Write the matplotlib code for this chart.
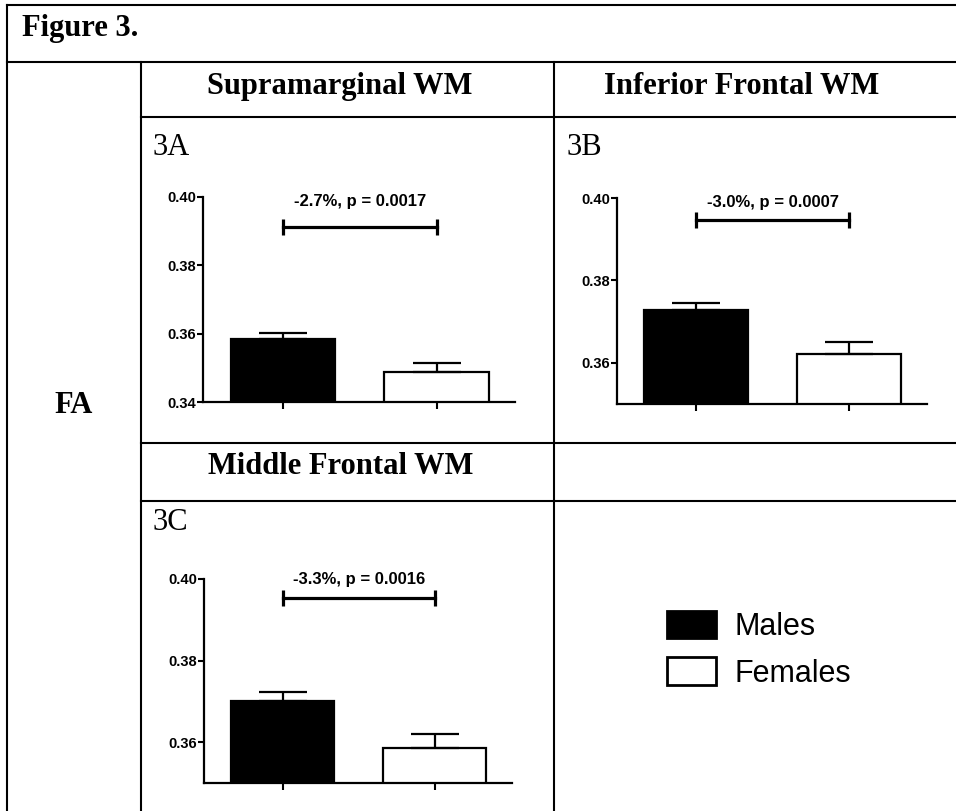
import matplotlib
matplotlib.use("Agg")
import matplotlib.pyplot as plt
from matplotlib.lines import Line2D
from matplotlib.patches import Patch

W, H = 956, 811

GROUPS = ["Males", "Females"]
PANELS = ["3A", "3B", "3C"]
TITLES = ["Supramarginal WM", "Inferior Frontal WM", "Middle Frontal WM"]

MEANS = {"3A": [0.3584, 0.3488], "3B": [0.3728, 0.3622], "3C": [0.3702, 0.3585]}
SEMS = {"3A": [0.0018, 0.0026], "3B": [0.0017, 0.0029], "3C": [0.0020, 0.0035]}
STATS = {"3A": "-2.7%, p = 0.0017", "3B": "-3.0%, p = 0.0007", "3C": "-3.3%, p = 0.0016"}
BRACKET_Y = {"3A": 0.3912, "3B": 0.3947, "3C": 0.3954}
LABEL_Y = {"3A": 0.3986, "3B": 0.3988, "3C": 0.3998}
YTICKS = {"3A": [0.34, 0.36, 0.38, 0.40], "3B": [0.36, 0.38, 0.40], "3C": [0.36, 0.38, 0.40]}
YLIM = {"3A": (0.34, 0.40), "3B": (0.35, 0.40), "3C": (0.35, 0.40)}

# axes boxes in pixels: left, top, right, bottom
AX_BOX = {"3A": (203, 197, 515, 402), "3B": (617, 198, 927, 404), "3C": (204, 579, 512, 783)}

SANS = "Liberation Sans"
SERIF = "Liberation Serif"


def fx(x):
    return x / W


def fy(y):
    return 1 - y / H


fig = plt.figure(figsize=(W / 100, H / 100), dpi=100)


def hline(y, x0, x1):
    fig.add_artist(Line2D([fx(x0), fx(x1)], [fy(y), fy(y)], color="black", lw=1.5))


def vline(x, y0, y1):
    fig.add_artist(Line2D([fx(x), fx(x)], [fy(y0), fy(y1)], color="black", lw=1.5))


# table grid
hline(5, 7, W)
vline(7, 5, H)
hline(62, 7, W)
vline(141, 62, H)
vline(554, 62, H)
hline(117, 141, W)
hline(443, 141, W)
hline(501, 141, W)

fig.text(fx(22), fy(36), "Figure 3.", family=SERIF, fontweight="bold", fontsize=22, va="baseline")
fig.text(fx(340), fy(94), TITLES[0], family=SERIF, fontweight="bold", fontsize=22, ha="center", va="baseline")
fig.text(fx(742), fy(94), TITLES[1], family=SERIF, fontweight="bold", fontsize=22, ha="center", va="baseline")
fig.text(fx(341), fy(474), TITLES[2], family=SERIF, fontweight="bold", fontsize=22, ha="center", va="baseline")
fig.text(fx(74), fy(413), "FA", family=SERIF, fontweight="bold", fontsize=22, ha="center", va="baseline")
fig.text(fx(153), fy(155), "3A", family=SERIF, fontsize=22, va="baseline")
fig.text(fx(567), fy(155), "3B", family=SERIF, fontsize=22, va="baseline")
fig.text(fx(153), fy(530), "3C", family=SERIF, fontsize=22, va="baseline")

x = [0, 1]
for p in PANELS:
    l, t, r, b = AX_BOX[p]
    ax = fig.add_axes([fx(l), fy(b), (r - l) / W, (b - t) / H])
    ax.bar(x, MEANS[p], width=0.68, color=["black", "white"], edgecolor="black", linewidth=1.6, zorder=2)
    ax.errorbar(x, MEANS[p], yerr=[[0, 0], SEMS[p]], fmt="none", ecolor="black",
                elinewidth=1.6, capsize=17.5, capthick=1.6, zorder=3)
    by = BRACKET_Y[p]
    ax.plot(x, [by, by], color="black", lw=2.3, marker="|", markersize=12,
            markeredgewidth=2.3, clip_on=False)
    ax.text(0.5, LABEL_Y[p], STATS[p], ha="center", va="center", fontsize=12,
            fontweight="bold", family=SANS, clip_on=False)
    ax.set_xlim(-0.52, 1.51)
    ax.set_ylim(*YLIM[p])
    ax.set_yticks(YTICKS[p], labels=[f"{v:.2f}" for v in YTICKS[p]],
                  fontweight="bold", family=SANS, fontsize=10.5)
    ax.set_xticks(x, labels=["", ""])
    ax.tick_params(axis="y", direction="out", length=4, width=1.5, pad=1)
    ax.tick_params(axis="x", direction="out", length=5, width=1.5)
    for s in ["top", "right"]:
        ax.spines[s].set_visible(False)
    for s in ["left", "bottom"]:
        ax.spines[s].set_linewidth(1.6)
    ax.patch.set_alpha(0)

handles = [Patch(facecolor="black", edgecolor="black", lw=2),
           Patch(facecolor="white", edgecolor="black", lw=2)]
fig.legend(handles, GROUPS, loc="upper left", bbox_to_anchor=(fx(667), fy(611)),
           frameon=False, borderaxespad=0, borderpad=0, handlelength=1.6,
           handleheight=1.0, handletextpad=0.62, labelspacing=0.5,
           prop={"family": SANS, "size": 22})

fig.savefig("out.png", dpi=100, facecolor="white")
